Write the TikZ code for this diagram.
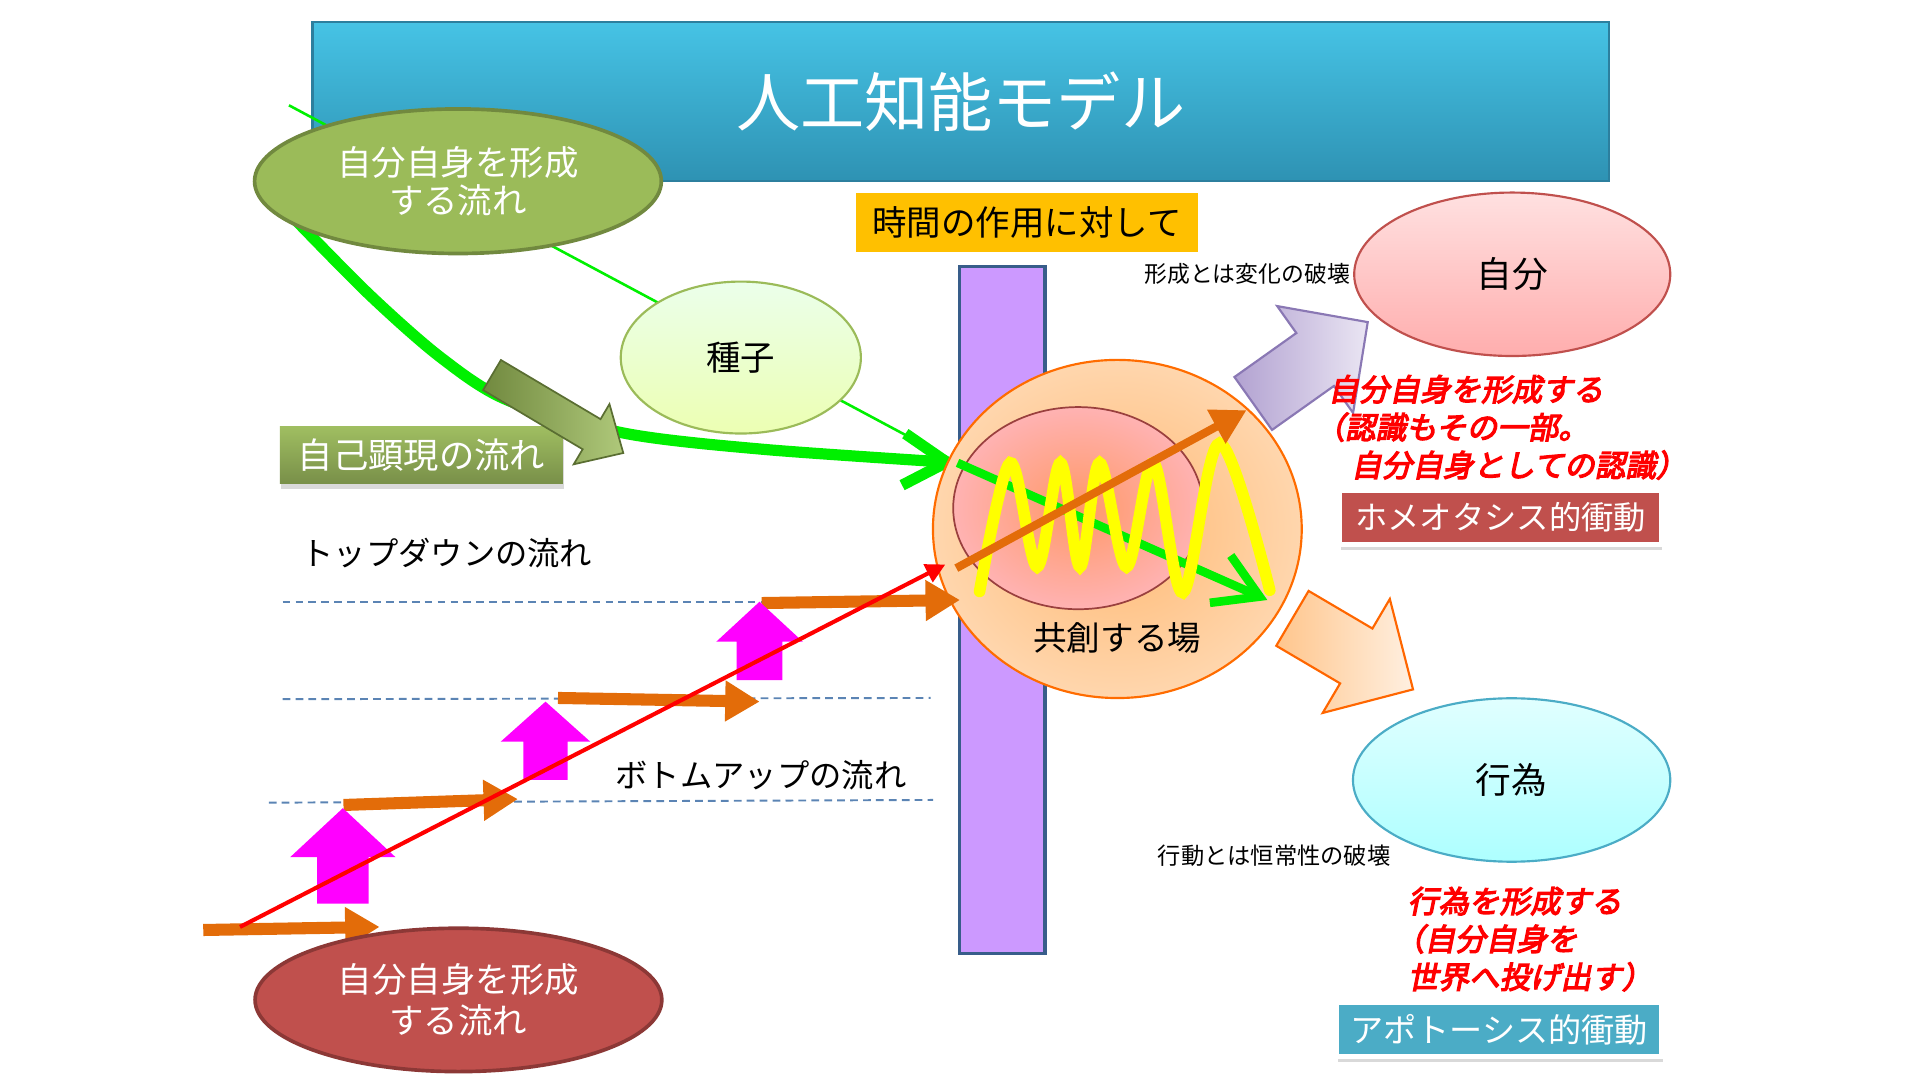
\documentclass[tikz,border=0pt]{standalone}
\usepackage{fontspec}
\setmainfont{Noto Sans CJK JP}
\newfontfamily\redjp{Noto Sans CJK JP}[FakeSlant=0.2,FakeBold=4]
\usetikzlibrary{arrows.meta,shapes.geometric,shadows}

\definecolor{titletop}{HTML}{46C3E5}
\definecolor{titlebot}{HTML}{2E92B3}
\definecolor{titleedge}{HTML}{2C7F9E}
\definecolor{flowgreen}{HTML}{9BBB59}
\definecolor{flowgreendark}{HTML}{71893F}
\definecolor{brick}{HTML}{C0504D}
\definecolor{brickdark}{HTML}{8C3836}
\definecolor{gold}{HTML}{FFC000}
\definecolor{barviolet}{HTML}{CC99FF}
\definecolor{baredge}{HTML}{385D8A}
\definecolor{vivid}{HTML}{00F000}
\definecolor{steporange}{HTML}{E36C09}
\definecolor{dashblue}{HTML}{5B84B4}
\definecolor{actblue}{HTML}{4BACC6}
\definecolor{pinkup}{HTML}{FF00FF}
\definecolor{wave}{HTML}{FFFF00}
\definecolor{lilacdark}{HTML}{B2A2D1}
\definecolor{lilaclight}{HTML}{EAE5F3}
\definecolor{lilacedge}{HTML}{8A78B4}

\begin{document}
\begin{tikzpicture}[x=0.01cm, y=-0.01cm,
    oval/.style={ellipse, inner sep=0pt, align=center},
    tag/.style={draw=white, line width=1.1pt, inner sep=0pt, text=white, drop shadow={opacity=0.3, shadow xshift=0.3pt, shadow yshift=-1.2pt}},
    steparrow/.style={draw=steporange, line width=2.8pt, -{Triangle[length=8pt,width=9pt]}},
    guide/.style={draw=dashblue, line width=0.45pt, dash pattern=on 1.8pt off 1.2pt},
    vividarrow/.style={draw=vivid, line width=2.6pt, -{Straight Barb[length=10pt,width=12pt]}},
    redlabel/.style={text=red, align=left, inner sep=0pt, font=\redjp\fontsize{7.1}{8.8}\selectfont},
  ]
\useasboundingbox (0,0) rectangle (1568,882);

\node[top color=titletop, bottom color=titlebot, draw=titleedge, line width=0.5pt, minimum width=10.58cm, minimum height=1.30cm, text=white, font=\fontsize{14.9}{18}\selectfont] (title) at (784.5,83) {人工知能モデル};

% fluxos verds
\coordinate (gtop) at (236,86); \coordinate (gin) at (782,378); \coordinate (gout) at (1035,490);
\draw[vivid, line width=0.6pt] (gtop) -- (gin); % línia fina
\draw[vividarrow] plot[smooth] coordinates {(234,172) (301,240) (360,292) (415,327) (511,354) (624,367) (gin)};

\node[oval, fill=flowgreen, draw=flowgreendark, line width=0.85pt, minimum width=3.32cm, minimum height=1.18cm, text=white, font=\fontsize{8}{9}\selectfont] (greenflow) at (374,148) {自分自身を形成\\する流れ};
\node[oval, top color=green!8!white, bottom color=green!25!yellow!30!white, draw=flowgreen, line width=0.5pt, minimum width=1.96cm, minimum height=1.24cm, font=\fontsize{8}{9}\selectfont] (seed) at (605,292) {種子};
\node[fill=gold, inner sep=0pt, minimum width=2.785cm, minimum height=0.475cm, font=\fontsize{8}{9}\selectfont] (timebox) at (838.7,181.7) {時間の作用に対して};
\node[draw=baredge, fill=barviolet, line width=0.7pt, inner sep=0pt, minimum width=0.694cm, minimum height=5.605cm] (bar) at (818.7,498.2) {};

% fletxes grosses
\begin{scope}[shift={(1023.5,329.5)}, rotate=35.4]
  \draw[draw=lilacedge, line width=0.5pt, left color=lilacdark, right color=lilaclight] (0,-26.5) -- (62,-26.5) -- (62,-53.5) -- (114.7,0) -- (62,53.5) -- (62,26.5) -- (0,26.5) -- cycle;
\end{scope}
\begin{scope}[shift={(1055.5,505)}, rotate=-30.5]
  \draw[draw=orange!80!red, line width=0.5pt, left color=orange!45!white, right color=orange!12!white] (0,-26) -- (60.5,-26) -- (60.5,-54) -- (114.3,0) -- (60.5,54) -- (60.5,26) -- (0,26) -- cycle;
\end{scope}

% camp
\node[oval, draw=orange!85!red, line width=0.5pt, inner color=orange!55!white, outer color=orange!32!white, minimum width=3.01cm, minimum height=2.76cm] (field) at (912.5,432) {};
\node[oval, draw=brick!80!black, line width=0.4pt, inner color=orange!65!red!60!white, outer color=red!30!white, minimum width=2.04cm, minimum height=1.65cm] (core) at (880.5,415) {};
\node[font=\fontsize{7.8}{9}\selectfont] (fieldlbl) at (912.5,521) {共創する場};

\coordinate (ost) at (781,464); \coordinate (oend) at (1018,335);
\draw[vividarrow, line width=2pt] (gin) -- (gout);
\draw[wave, line width=2.7pt, line cap=round] plot[smooth, tension=0.55] coordinates {(800,483) (825,378) (847,463) (866,378) (882,463) (898,378) (920,463) (942,378) (966,484) (996,362) (1037,482)};
\draw[steporange, line width=1.9pt, -{Triangle[length=8pt,width=8.5pt]}] (ost) -- (oend);

% escales
\draw[guide] (230.8,491.4) -- (622,491.4);
\draw[guide] (230.8,571) -- (760,570);
\draw[guide] (219.5,655.5) -- (762,653.3);
\foreach \i/\ax/\ay/\bx/\by in {1/166/759.5/310/757, 2/280.5/657.4/423/652.6, 3/455.7/570/620.4/573, 4/622/492.5/784/490} {
  \coordinate (st\i) at (\ax,\ay); \coordinate (sh\i) at (\bx,\by);
  \draw[steparrow] (st\i) -- (sh\i);
}
\foreach \x/\y/\l/\h/\s/\w in {280/738/78/38/21/43, 445.5/637/64/31.3/18/36.6, 620.3/555.4/64/31.4/18.7/35.3}
  \fill[pinkup] (\x-\s,\y) -- (\x-\s,\y-\h) -- (\x-\w,\y-\h) -- (\x,\y-\l) -- (\x+\w,\y-\h) -- (\x+\s,\y-\h) -- (\x+\s,\y) -- cycle;
\coordinate (rst) at (196,757); \coordinate (rend) at (772,461);
\draw[red, line width=0.95pt, -{Triangle[length=4.5pt,width=4.5pt]}] (rst) -- (rend);

\node[oval, fill=brick, draw=brickdark, line width=0.85pt, minimum width=3.32cm, minimum height=1.17cm, text=white, font=\fontsize{8}{9.6}\selectfont] (redflow) at (374.4,816.6) {自分自身を形成\\する流れ};
\node[font=\fontsize{7.5}{9}\selectfont] (topdown) at (365,452) {トップダウンの流れ};
\node[font=\fontsize{7.5}{9}\selectfont] (bottomup) at (621.5,633) {ボトムアップの流れ};

\node[top color=flowgreen!95!white, bottom color=flowgreendark!95!white, inner sep=0pt, minimum width=2.31cm, minimum height=0.473cm, text=white, font=\fontsize{8.2}{9}\selectfont, drop shadow={opacity=0.3, shadow xshift=0.3pt, shadow yshift=-1.2pt}] (selfshow) at (344.2,371.6) {自己顕現の流れ};
\begin{scope}[shift={(401.8,306.3)}, rotate=-30.7]
  \draw[draw=flowgreendark!80!black, line width=0.4pt, left color=flowgreendark, right color=flowgreen!80!white] (0,-14.3) -- (94.6,-14.3) -- (94.6,-28.6) -- (124.7,0) -- (94.6,28.6) -- (94.6,14.3) -- (0,14.3) -- cycle;
\end{scope}

% dreta
\node[oval, top color=red!12!white, bottom color=red!32!white, draw=brick, line width=0.5pt, minimum width=2.58cm, minimum height=1.334cm, font=\fontsize{8.3}{9}\selectfont] (self) at (1235,224) {自分};
\node[oval, top color=cyan!12!white, bottom color=cyan!32!white, draw=actblue, line width=0.5pt, minimum width=2.59cm, minimum height=1.334cm, font=\fontsize{8.3}{9}\selectfont] (act) at (1234.5,637) {行為};
\node[font=\fontsize{5.3}{6}\selectfont] (formnote) at (1018.5,224) {形成とは変化の破壊};
\node[font=\fontsize{5.4}{6}\selectfont] (actnote) at (1040.5,699) {行動とは恒常性の破壊};

\node[redlabel, anchor=west] (selfnote) at (1084,349) {自分自身を形成する\\\hspace*{-0.45em}（認識もその一部。\\\hspace*{0.75em}自分自身としての認識）};
\node[redlabel, anchor=west] (actform) at (1149,767) {行為を形成する\\\hspace*{-0.45em}（自分自身を\\世界へ投げ出す）};

\node[tag, fill=brick, minimum width=2.62cm, minimum height=0.44cm, font=\fontsize{7.5}{9}\selectfont] (homeo) at (1225.5,422.6) {ホメオタシス的衝動};
\node[tag, fill=actblue, minimum width=2.65cm, minimum height=0.44cm, font=\fontsize{7.7}{9}\selectfont] (apopto) at (1224.3,840.9) {アポトーシス的衝動};
\end{tikzpicture}
\end{document}
